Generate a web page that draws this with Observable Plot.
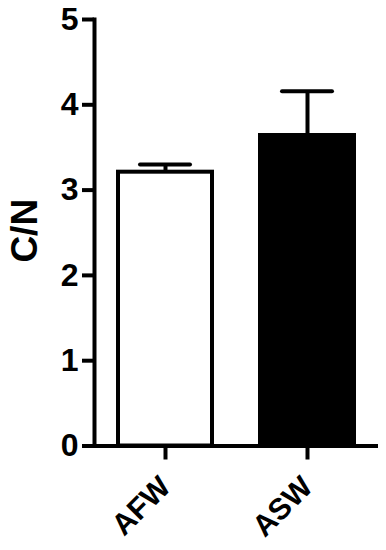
<!DOCTYPE html>
<html>
<head>
<meta charset="utf-8">
<script src="https://cdn.jsdelivr.net/npm/d3@7"></script>
<script src="https://cdn.jsdelivr.net/npm/@observablehq/plot@0.6"></script>
<style>
  html, body { margin: 0; padding: 0; background: #fff; }
  #chart svg { display: block; }
</style>
</head>
<body>
<div id="chart"></div>
<script>
const groups = ["AFW", "ASW"];
const means = [3.21, 3.64];
const errUpper = [3.30, 4.16];
const fills = ["white", "black"];
const yTicks = [0, 1, 2, 3, 4, 5];
const yLabel = "C/N";

const data = groups.map((g, i) => ({group: g, value: means[i], upper: errUpper[i], fill: fills[i]}));

const font = "'Liberation Sans', Arial, sans-serif";

const chart = Plot.plot({
  width: 386,
  height: 550,
  marginLeft: 94,
  marginRight: 8,
  marginTop: 19,
  marginBottom: 104.5,
  style: {fontFamily: font, background: "white", color: "black"},
  x: {domain: groups, paddingInner: 0.34, paddingOuter: 0.17, label: null},
  y: {domain: [0, 5], label: null},
  marks: [
    Plot.ruleX(data, {x: "group", y1: "value", y2: "upper", stroke: "black", strokeWidth: 4}),
    Plot.tickY(data, {x: "group", y: "upper", stroke: "black", strokeWidth: 4, strokeLinecap: "round", insetLeft: 22, insetRight: 22}),
    Plot.barY(data, {x: "group", y: "value", fill: "fill", stroke: "black", strokeWidth: 4}),
    Plot.frame({anchor: "left", stroke: "black", strokeWidth: 4}),
    Plot.ruleY([0], {stroke: "black", strokeWidth: 4}),
    Plot.axisY({ticks: yTicks, tickFormat: d3.format("d"), tickSize: 12, strokeWidth: 4, tickPadding: 4, fontSize: 32, fontWeight: "bold", label: null}),
    Plot.text([yLabel], {frameAnchor: "left", textAnchor: "middle", lineAnchor: "middle", rotate: -90, dx: -69, dy: -2, fontSize: 37, fontWeight: "bold", fill: "black"}),
    Plot.axisX({tickSize: 14, strokeWidth: 4, tickRotate: -45, tickPadding: 22, fontSize: 30, fontWeight: "bold", label: null})
  ]
});

document.getElementById("chart").appendChild(chart);
</script>
</body>
</html>
